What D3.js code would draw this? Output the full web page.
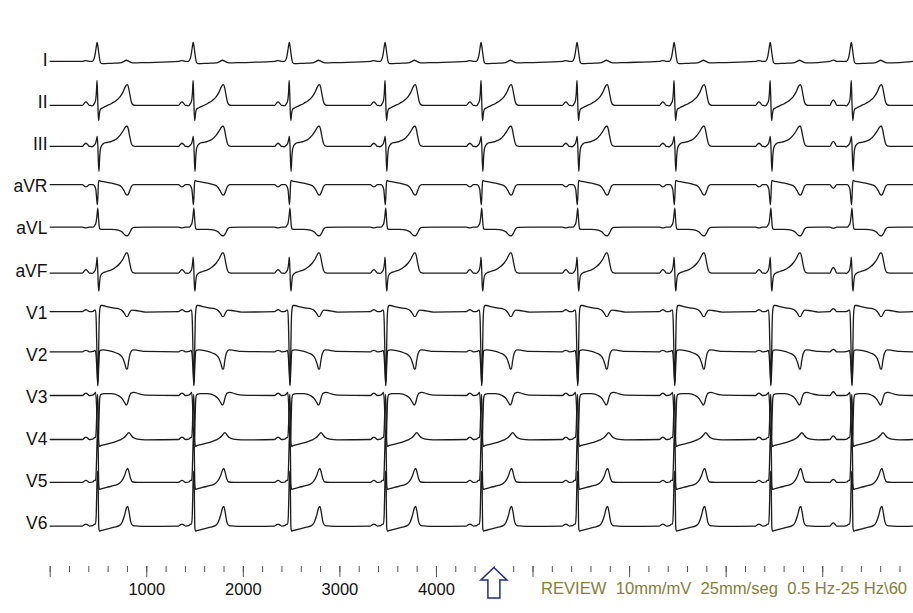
<!DOCTYPE html>
<html><head><meta charset="utf-8">
<script src="https://cdn.jsdelivr.net/npm/d3@7"></script>
<style>
html,body{margin:0;padding:0;background:#fff;}
svg{display:block;font-family:"Liberation Sans",Arial,sans-serif;}
</style></head><body>
<svg id="c" width="913" height="613"></svg>
<script>
// ---------------- DATA ----------------
const leads = ["I","II","III","aVR","aVL","aVF","V1","V2","V3","V4","V5","V6"];
// R-peak times (ms) and P-wave peak times (ms)
const rTimes = [490,1485,2480,3472,4466,5460,6465,7460,8300];
const pTimes = [375,1370,2365,3357,4351,5345,6350,7345,8115];
const pScale = [1,1,1,1,1,1,1,1,1.6];
// normalized P-wave shape [ms from P peak, fraction]
const pShape = [[-35,0],[-18,0.6],[0,1],[18,0.6],[35,0]];
// P amplitude per lead (mV)
const pAmp = [0.02,0.09,0.08,-0.06,-0.02,0.09,0.05,0.04,0.06,0.06,0.05,0.05];
// baseline offset per lead (mV)
const baselineShift = [-0.01,-0.06,-0.03,0.07,0.06,-0.04,0.05,0.10,0.06,0.01,-0.01,-0.05];
// QRS-T complexes: [ms from R peak, mV]
const qrsI = [[-70,0],[-50,0],[-35,0.04],[-22,0.15],[-10,0.34],[1,0.49],[12,0.34],[24,0.11],[36,-0.03],[55,-0.06],[150,-0.05],[240,-0.04],[280,0],[305,0.03],[330,0],[370,-0.04],[500,-0.03]];
const qrsII = [[-70,0],[-50,-0.01],[-30,0.04],[-15,0.13],[-6,0.36],[0,0.65],[5,0.36],[12,-0.21],[17,-0.39],[24,-0.23],[35,-0.10],[60,-0.06],[100,-0.01],[150,0.05],[200,0.13],[240,0.23],[270,0.35],[292,0.48],[305,0.53],[315,0.54],[325,0.48],[340,0.28],[356,0.09],[372,0.02],[395,0],[500,0]];
const qrsIII = [[-70,0],[-50,-0.01],[-30,0.03],[-15,0.08],[-5,0.18],[2,0.26],[8,0.05],[14,-0.39],[20,-0.65],[27,-0.31],[35,-0.08],[50,0.03],[70,0.08],[100,0.10],[150,0.13],[200,0.19],[240,0.29],[270,0.40],[292,0.49],[304,0.52],[314,0.52],[324,0.45],[340,0.24],[356,0.07],[372,0.01],[395,0],[500,0]];
const qrsAVR = [[-70,0],[-40,0],[-25,-0.04],[-12,-0.13],[-4,-0.36],[3,-0.52],[9,-0.31],[14,0],[20,0.11],[35,0.09],[80,0.07],[150,0.04],[210,0],[250,-0.05],[280,-0.16],[300,-0.25],[312,-0.27],[324,-0.25],[340,-0.15],[358,-0.04],[380,0],[500,0]];
const qrsAVL = [[-70,0],[-40,0],[-25,0.04],[-12,0.10],[0,0.31],[8,0.49],[15,0.26],[22,0.03],[30,-0.05],[60,-0.06],[150,-0.06],[220,-0.08],[260,-0.13],[292,-0.21],[308,-0.23],[322,-0.21],[340,-0.14],[358,-0.05],[385,-0.01],[500,0]];
const qrsAVF = [[-70,0],[-50,-0.01],[-30,0.03],[-15,0.10],[-5,0.26],[1,0.41],[7,0.13],[13,-0.31],[19,-0.47],[26,-0.26],[35,-0.08],[60,0],[100,0.04],[150,0.08],[200,0.16],[240,0.26],[270,0.37],[292,0.48],[304,0.52],[314,0.52],[324,0.45],[340,0.24],[356,0.07],[372,0.01],[395,0],[500,0]];
const qrsV1 = [[-70,0],[-40,0.01],[-25,0.04],[-15,0.04],[-8,-0.26],[0,-1.17],[8,-1.92],[15,-1.30],[22,-0.26],[30,0.08],[40,0.16],[60,0.16],[100,0.13],[160,0.10],[220,0.08],[260,0.03],[285,-0.05],[305,-0.13],[318,-0.12],[335,-0.03],[360,0.04],[400,0.03],[500,-0.01]];
const qrsV2 = [[-70,0],[-40,0.01],[-20,0.04],[-10,-0.08],[0,-0.52],[8,-0.85],[15,-0.57],[22,-0.13],[30,0.04],[60,0.05],[120,0.03],[200,-0.03],[240,-0.08],[270,-0.18],[292,-0.34],[305,-0.45],[315,-0.44],[328,-0.23],[345,-0.03],[370,0.05],[420,0.04],[500,0.01]];
const qrsV3 = [[-70,0],[-45,0.01],[-25,0.05],[-15,0.08],[-5,-0.26],[5,-1.04],[12,-1.17],[20,-0.65],[28,-0.08],[40,0.03],[80,0.05],[150,0.05],[220,0],[260,-0.08],[285,-0.18],[302,-0.25],[315,-0.21],[332,-0.05],[352,0.06],[380,0.08],[440,0.04],[500,0.01]];
const qrsV4 = [[-70,0],[-45,0.01],[-25,0.05],[-15,0.05],[-8,0.26],[0,0.91],[6,1.17],[12,0.78],[18,-0.05],[25,-0.18],[40,-0.16],[100,-0.12],[200,-0.05],[240,-0.01],[280,0.05],[310,0.13],[330,0.18],[350,0.12],[375,0.05],[420,0.01],[500,-0.01]];
const qrsV5 = [[-70,0],[-45,0.01],[-25,0.05],[-15,0.05],[-8,0.31],[0,1.04],[6,1.30],[12,0.91],[18,-0.05],[25,-0.18],[40,-0.17],[100,-0.13],[180,-0.08],[230,-0.03],[260,0.05],[285,0.18],[305,0.32],[318,0.36],[332,0.26],[350,0.08],[370,0.01],[420,0],[500,0]];
const qrsV6 = [[-70,0],[-45,0.01],[-25,0.05],[-15,0.05],[-8,0.31],[0,1.17],[6,1.42],[12,1.04],[18,-0.03],[25,-0.13],[40,-0.12],[100,-0.08],[180,-0.03],[230,0.01],[260,0.10],[285,0.28],[305,0.47],[318,0.51],[332,0.36],[350,0.10],[372,0.01],[420,0],[500,-0.01]];
const templates = [qrsI,qrsII,qrsIII,qrsAVR,qrsAVL,qrsAVF,qrsV1,qrsV2,qrsV3,qrsV4,qrsV5,qrsV6];
// time axis ticks (ms)
const minorTicks = [0,200,400,600,800,1000,1200,1400,1600,1800,2000,2200,2400,2600,2800,3000,3200,3400,3600,3800,4000,4200,4400,4600,4800,5000,5200,5400,5600,5800,6000,6200,6400,6600,6800,7000,7200,7400,7600,7800,8000,8200,8400,8600,8800];
const majorTicks = [0,1000,2000,3000,4000,5000,6000,7000,8000];
const tickLabels = [1000,2000,3000,4000];
const footerText = "REVIEW  10mm/mV  25mm/seg  0.5 Hz-25 Hz\\60";
const markerTime = 4600;

// ---------------- CHART ----------------
const svg = d3.select("#c");
const tEnd = 8940;
const x = d3.scaleLinear().domain([0, tEnd]).range([49.7, 913]);
const yPos = d3.scalePoint().domain(leads).range([61, 524.1]);
const amp = d3.scaleLinear().domain([0, 1]).range([0, -38.63]); // 10 mm/mV

function buildSeries(li){
  const pts = [[0,0]];
  rTimes.forEach((r, bi) => {
    pShape.forEach(([o, n]) => pts.push([pTimes[bi] + o, n * pAmp[li] * pScale[bi]]));
    templates[li].forEach(([o, v]) => pts.push([r + o, v]));
  });
  pts.push([tEnd, 0]);
  pts.sort((a, b) => a[0] - b[0]);
  return pts;
}

const traces = svg.append("g");
leads.forEach((lead, li) => {
  const base = yPos(lead);
  const line = d3.line()
    .x(d => x(d[0]))
    .y(d => base + amp(d[1] + baselineShift[li]))
    .curve(d3.curveMonotoneX);
  traces.append("path")
    .attr("d", line(buildSeries(li)))
    .attr("fill", "none")
    .attr("stroke", "#1b1b1b")
    .attr("stroke-width", 1.3)
    .attr("stroke-linejoin", "round");
  svg.append("text")
    .attr("x", 47.5).attr("y", base + 5)
    .attr("text-anchor", "end")
    .attr("font-size", 17.5)
    .attr("fill", "#111")
    .text(lead);
});

// axis
const axisY = 566;
const minorAxis = d3.axisBottom(x).tickValues(minorTicks).tickSize(6).tickFormat("");
const majorAxis = d3.axisBottom(x).tickValues(majorTicks).tickSize(11).tickPadding(6)
  .tickFormat(d => tickLabels.includes(d) ? d : "");
const gMin = svg.append("g").attr("transform", `translate(0,${axisY})`).call(minorAxis);
const gMaj = svg.append("g").attr("transform", `translate(0,${axisY})`).call(majorAxis);
[gMin, gMaj].forEach(g => {
  g.select(".domain").remove();
  g.selectAll("line").attr("stroke", "#555").attr("stroke-width", 1);
  g.selectAll("text").attr("font-size", 16.5).attr("fill", "#111")
    .attr("font-family", '"Liberation Sans",Arial,sans-serif');
});

// marker arrow
const ax = x(markerTime);
const arrow = d3.path();
arrow.moveTo(ax, 567.5);
arrow.lineTo(ax + 13, 580);
arrow.lineTo(ax + 6, 580);
arrow.lineTo(ax + 6, 598);
arrow.lineTo(ax - 6, 598);
arrow.lineTo(ax - 6, 580);
arrow.lineTo(ax - 13, 580);
arrow.closePath();
svg.append("path").attr("d", arrow.toString())
  .attr("fill", "#fff").attr("stroke", "#1e2a8c").attr("stroke-width", 1.5)
  .attr("stroke-linejoin", "miter");

// footer text
svg.append("text")
  .attr("x", 541).attr("y", 594)
  .attr("font-size", 16.6)
  .attr("fill", "#86803a")
  .style("white-space", "pre")
  .text(footerText);
</script>
</body></html>
